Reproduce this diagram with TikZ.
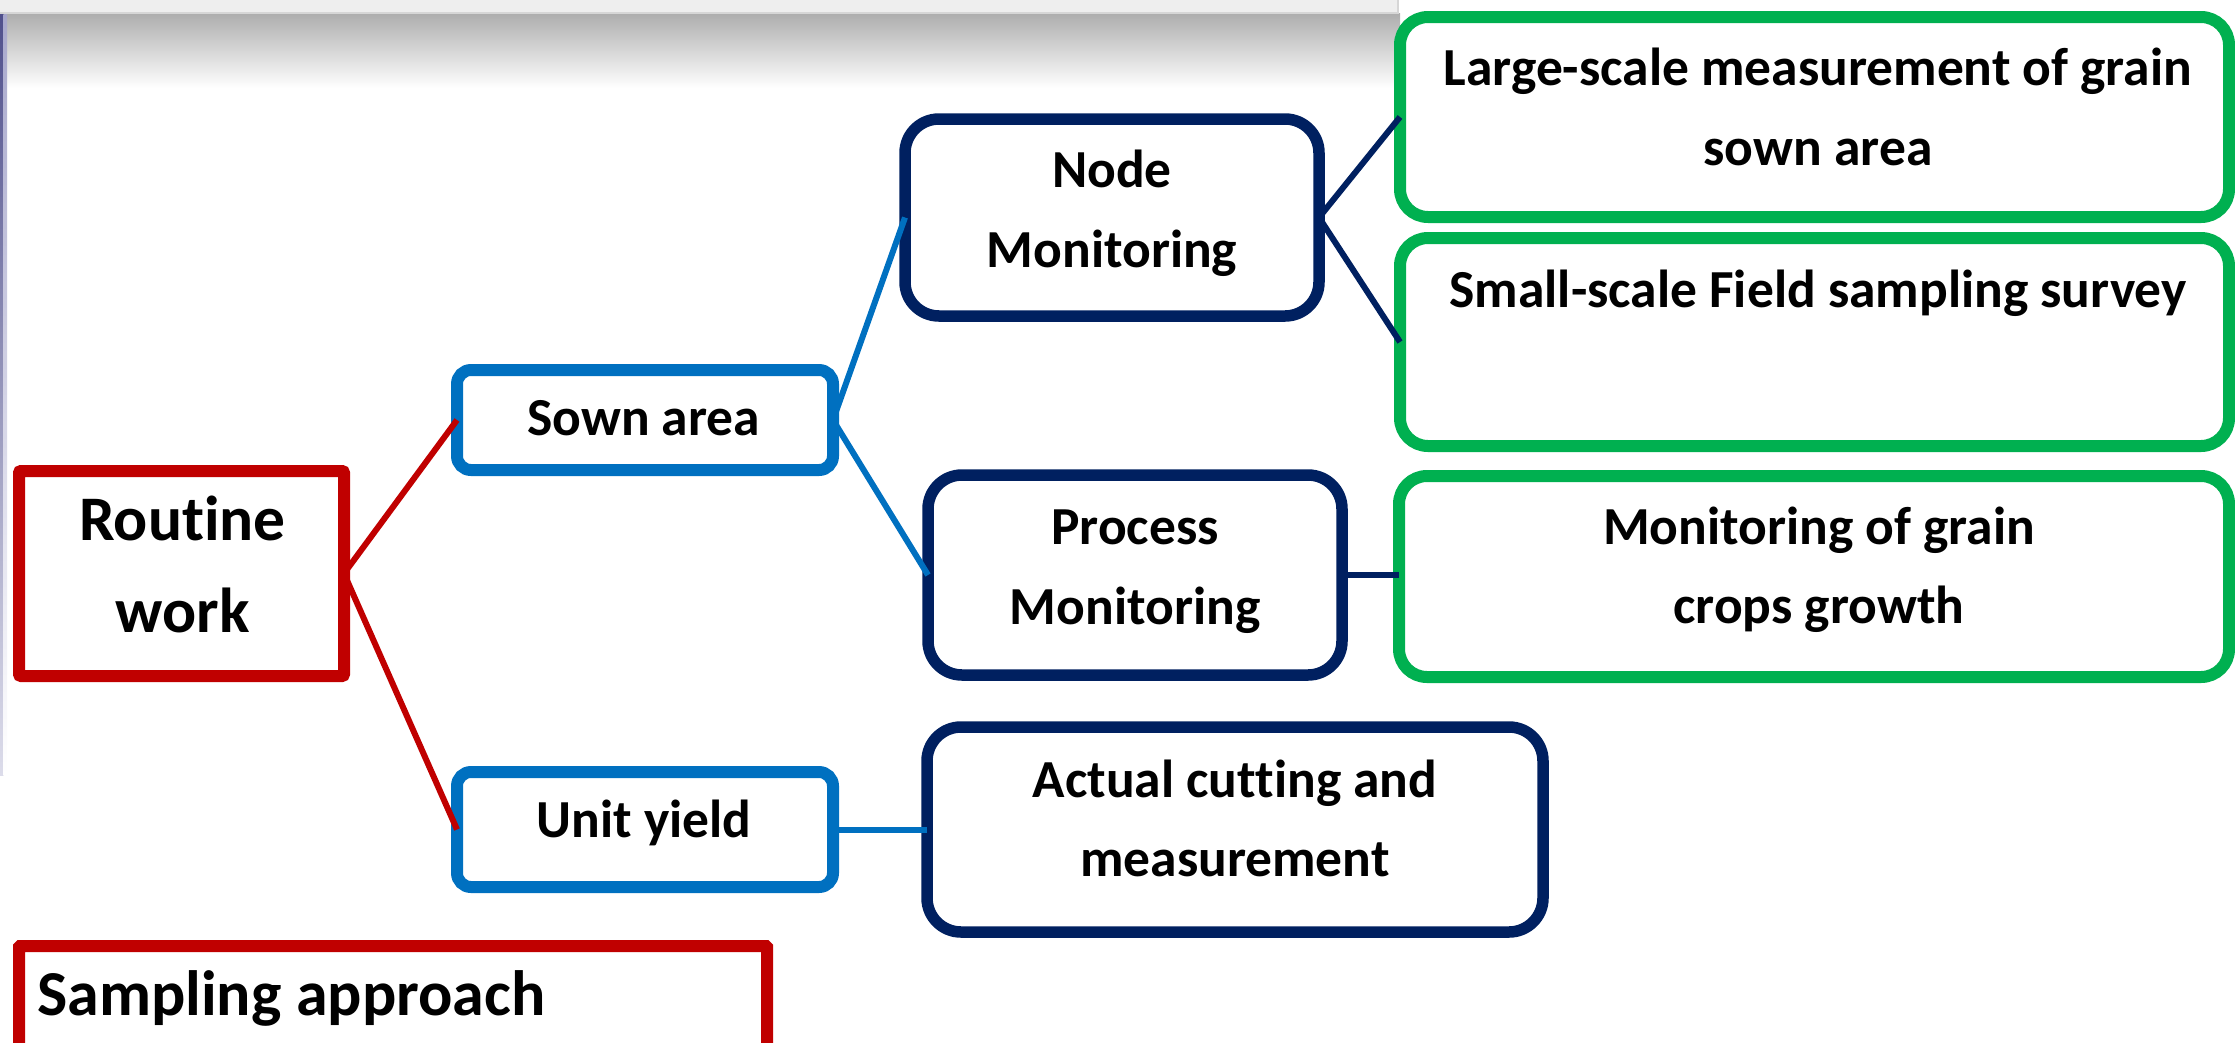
\documentclass[tikz,border=0pt]{standalone}
\usepackage{fontspec}
\setmainfont{Carlito}[Ligatures=NoCommon]
\definecolor{cRed}{HTML}{C00000}
\definecolor{cBlue}{HTML}{0070C0}
\definecolor{cNavy}{HTML}{002060}
\definecolor{cGreen}{HTML}{00B050}
\definecolor{cBar}{HTML}{EEEEEE}
\definecolor{cBarEdge}{HTML}{D6D6D6}
\definecolor{cShadow}{HTML}{ADADAD}
\definecolor{cStripA}{HTML}{50508C}
\definecolor{cStripB}{HTML}{DCDCEA}
\definecolor{cStripC}{HTML}{A8A8CC}
\begin{document}
\begin{tikzpicture}[x=1pt,y=-1pt,
  box/.style={draw, fill=white, inner sep=0pt, outer sep=0pt},
  redbox/.style={box, draw=cRed, line width=12pt, rounded corners=2pt},
  bluebox/.style={box, draw=cBlue, line width=12pt, rounded corners=14pt},
  navybox/.style={box, draw=cNavy, line width=11.5pt, rounded corners=34pt},
  greenbox/.style={box, draw=cGreen, line width=12pt, rounded corners=28pt},
  redline/.style={draw=cRed, line width=6pt},
  blueline/.style={draw=cBlue, line width=6pt},
  navyline/.style={draw=cNavy, line width=6pt},
  txt/.style={anchor=base, inner sep=0pt, font=\fontsize{53.5}{80}\selectfont\bfseries},
  bigtxt/.style={anchor=base, inner sep=0pt, font=\fontsize{63.5}{92}\selectfont\bfseries},
]
\useasboundingbox (0,0) rectangle (2235,1042);

% slide residue: top bar with shadow, left strip
\shade[top color=cShadow, bottom color=white] (0,13) rectangle (1400,88);
\fill[cBar] (0,0) rectangle (1398,13);
\draw[cBarEdge, line width=2pt] (0,13) -- (1398,13) -- (1398,0);
\shade[top color=cStripA, bottom color=cStripB] (0,14) rectangle (3.5,775);
\shade[top color=cStripC, bottom color=white] (3.5,14) rectangle (7,775);

% boxes
\node[redbox, minimum width=325pt, minimum height=205pt] (routine) at (181.5,573.5) {};
\node[bluebox, minimum width=376pt, minimum height=100pt] (sown) at (645,420) {};
\node[bluebox, minimum width=376pt, minimum height=115pt] (unit) at (645,829.5) {};
\node[navybox, minimum width=414pt, minimum height=197pt] (nodemon) at (1112,217.5) {};
\node[navybox, minimum width=414pt, minimum height=200pt] (procmon) at (1135,575) {};
\node[navybox, minimum width=616pt, minimum height=205pt] (actual) at (1235,829.5) {};
\node[greenbox, minimum width=829pt, minimum height=200pt] (large) at (1814.5,117) {};
\node[greenbox, minimum width=829pt, minimum height=208pt] (small) at (1814.5,342) {};
\node[greenbox, minimum width=830pt, minimum height=201pt] (growth) at (1814,576.5) {};
\node[redbox, rounded corners=1pt, minimum width=748pt, minimum height=140pt] (sampling) at (393,1016) {};

% connectors
\draw[redline] (routine.east) -- (sown.west);
\draw[redline] (routine.east) -- (unit.west);
\draw[blueline] (sown.east) -- (nodemon.west);
\draw[blueline] (sown.east) -- (procmon.west);
\draw[blueline] (unit.east) -- (actual.west);
\draw[navyline] (nodemon.east) -- (large.west);
\draw[navyline] (nodemon.east) -- (small.west);
\draw[navyline] (procmon.east) -- (procmon.east -| growth.west);

% texts
\node[bigtxt] (t-routine1) at (182.5,540) {Routine};
\node[bigtxt] (t-routine2) at (182.5,632) {work};
\node[txt] (t-sown) at (643.5,435) {Sown area};
\node[txt] (t-unit) at (644,837) {Unit yield};
\node[txt] (t-node1) at (1112,187) {Node};
\node[txt] (t-node2) at (1112,267) {Monitoring};
\node[txt] (t-proc1) at (1135,544) {Process};
\node[txt] (t-proc2) at (1135,624) {Monitoring};
\node[txt] (t-act1) at (1235,797) {Actual cutting and};
\node[txt] (t-act2) at (1235,876) {measurement};
\node[txt] (t-large1) at (1818,85) {Large-scale measurement of grain};
\node[txt] (t-large2) at (1818,165) {sown area};
\node[txt] (t-small) at (1818,307) {Small-scale Field sampling survey};
\node[txt] (t-grow1) at (1819,544) {Monitoring of grain};
\node[txt] (t-grow2) at (1819,623) {crops growth};
\node[anchor=base west, inner sep=0pt, font=\fontsize{64}{76}\selectfont\bfseries] (t-sampling) at (37,1015) {Sampling approach};
\end{tikzpicture}
\end{document}
